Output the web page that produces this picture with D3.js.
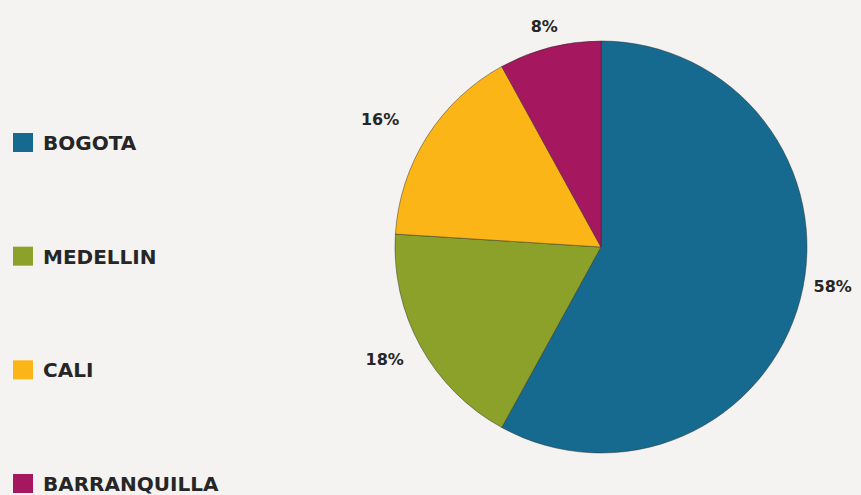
<!DOCTYPE html>
<html>
<head>
<meta charset="utf-8">
<script src="https://cdn.jsdelivr.net/npm/d3@7"></script>
<style>
  body { margin: 0; background: #f5f3f1; }
  svg { display: block; font-family: "DejaVu Sans", Verdana, sans-serif; }
</style>
</head>
<body>
<div id="chart"></div>
<script>
const cities = ['BOGOTA', 'MEDELLIN', 'CALI', 'BARRANQUILLA'];
const shares = [58, 18, 16, 8];
const colors = ['#176a8f', '#8ba12a', '#fbb516', '#a5185f'];

const width = 861, height = 495;
const center = { x: 601, y: 247 };
const radius = 206;

const svg = d3.select('#chart')
    .append('svg')
    .attr('width', width)
    .attr('height', height);

svg.append('rect')
    .attr('width', width)
    .attr('height', height)
    .attr('fill', '#f5f3f1');

const data = cities.map((c, i) => ({ city: c, value: shares[i], color: colors[i] }));

const pie = d3.pie().sort(null).value(d => d.value);
const arc = d3.arc().innerRadius(0).outerRadius(radius);
const labelArc = d3.arc().innerRadius(232).outerRadius(232);
// hand nudges so the labels sit where the original put them
const labelNudge = [[7, -18], [-13, 1], [-25, -3], [1, 4]];

const g = svg.append('g')
    .attr('transform', `translate(${center.x}, ${center.y})`);

const arcs = pie(data);

g.selectAll('.slice')
    .data(arcs)
    .enter()
    .append('path')
    .attr('class', 'slice')
    .attr('d', arc)
    .attr('fill', d => d.data.color)
    .attr('stroke', 'rgba(40,40,40,0.45)')
    .attr('stroke-width', 1);

g.selectAll('.pct')
    .data(arcs)
    .enter()
    .append('text')
    .attr('class', 'pct')
    .attr('x', (d, i) => labelArc.centroid(d)[0] + labelNudge[i][0])
    .attr('y', (d, i) => labelArc.centroid(d)[1] + labelNudge[i][1])
    .attr('text-anchor', 'middle')
    .attr('dominant-baseline', 'central')
    .attr('font-size', 16)
    .attr('font-weight', 'bold')
    .attr('fill', '#262626')
    .text(d => d.data.value + '%');

// Legend, one row per city down the left side
const legendY = d3.scalePoint()
    .domain(cities)
    .range([143, 484]);

const legend = svg.selectAll('.legend')
    .data(data)
    .enter()
    .append('g')
    .attr('class', 'legend')
    .attr('transform', d => `translate(13, ${legendY(d.city)})`);

legend.append('rect')
    .attr('x', 0)
    .attr('y', -10)
    .attr('width', 20)
    .attr('height', 19)
    .attr('fill', d => d.color);

legend.append('text')
    .attr('x', 30)
    .attr('y', 0)
    .attr('dominant-baseline', 'central')
    .attr('font-size', 20)
    .attr('font-weight', 'bold')
    .attr('fill', '#262626')
    .text(d => d.city);
</script>
</body>
</html>
